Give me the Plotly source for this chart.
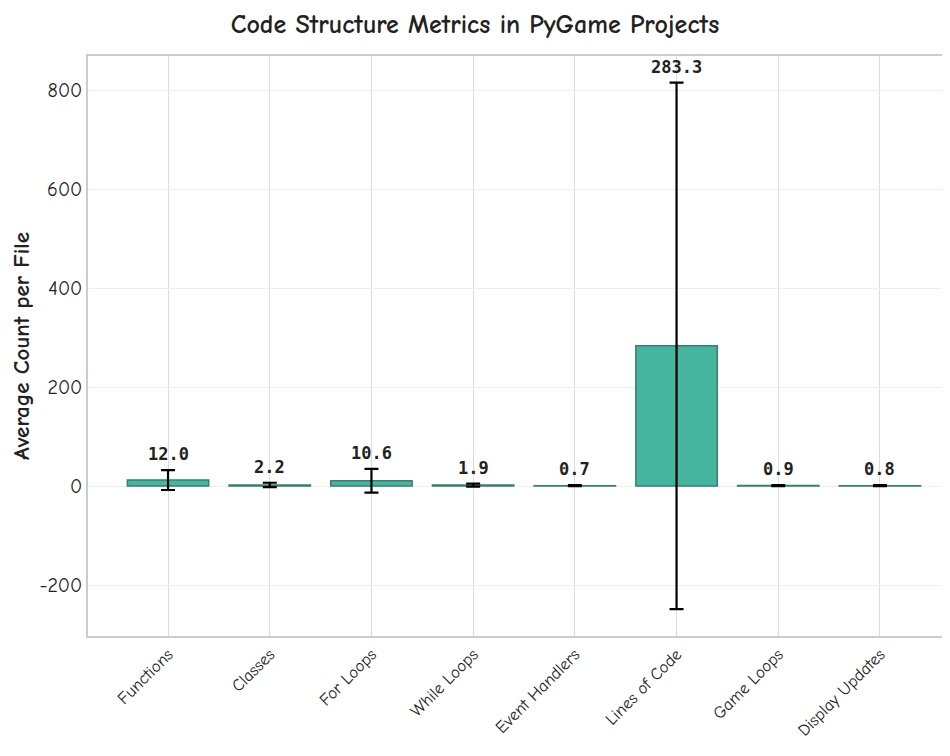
import plotly.graph_objects as go

categories = ["Functions", "Classes", "For Loops", "While Loops", "Event Handlers",
              "Lines of Code", "Game Loops", "Display Updates"]
means = [12.0, 2.2, 10.6, 1.9, 0.7, 283.3, 0.9, 0.8]
errors = [20.0, 4.5, 24.0, 3.0, 1.0, 532.0, 1.0, 1.0]
y_ticks = [-200, 0, 200, 400, 600, 800]

FONT = "Comic Sans MS, Comic Neue, Lato, DejaVu Sans, sans-serif"

fig = go.Figure()
fig.add_trace(go.Bar(
    x=categories, y=means, width=0.8,
    marker=dict(color="#45b5a0", line=dict(color="#357f70", width=1.5)),
    error_y=dict(type="data", array=errors, visible=True, color="black",
                 thickness=2.2, width=7),
    showlegend=False,
))

for c, m, e in zip(categories, means, errors):
    fig.add_annotation(x=c, y=m + e, text=f"<b>{m:.1f}</b>", showarrow=False,
                       yanchor="bottom", yshift=4,
                       font=dict(family="DejaVu Sans Mono, monospace", size=17, color="#222"))

fig.update_layout(
    width=934, height=740,
    paper_bgcolor="white", plot_bgcolor="white",
    margin=dict(l=80, r=0, t=48, b=112),
    title=dict(text="<b>Code Structure Metrics in PyGame Projects</b>", x=0.5, xanchor="center",
               y=0.978, yanchor="middle",
               font=dict(family=FONT, size=26, color="#222")),
    font=dict(family=FONT, color="#222"),
    bargap=0.2,
)
fig.update_xaxes(
    range=[-0.787, 7.61], tickangle=-45, tickfont=dict(size=17, color="#222"),
    showgrid=True, gridcolor="#dcdcdc", gridwidth=1, automargin=False,
    showline=True, mirror=True, linecolor="#cccccc", linewidth=1.5,
    ticks="",
)
fig.update_yaxes(
    range=[-303, 869], tickvals=y_ticks, ticktext=[str(v) for v in y_ticks],
    tickfont=dict(size=20, color="#222"), automargin=False,
    showgrid=True, gridcolor="#efefef", gridwidth=1, zeroline=False,
    showline=True, mirror=True, linecolor="#cccccc", linewidth=1.5,
    title=dict(text="<b>Average Count per File</b>", font=dict(size=23, color="#222"), standoff=8),
    ticks="",
)

fig.write_html("out.html")
